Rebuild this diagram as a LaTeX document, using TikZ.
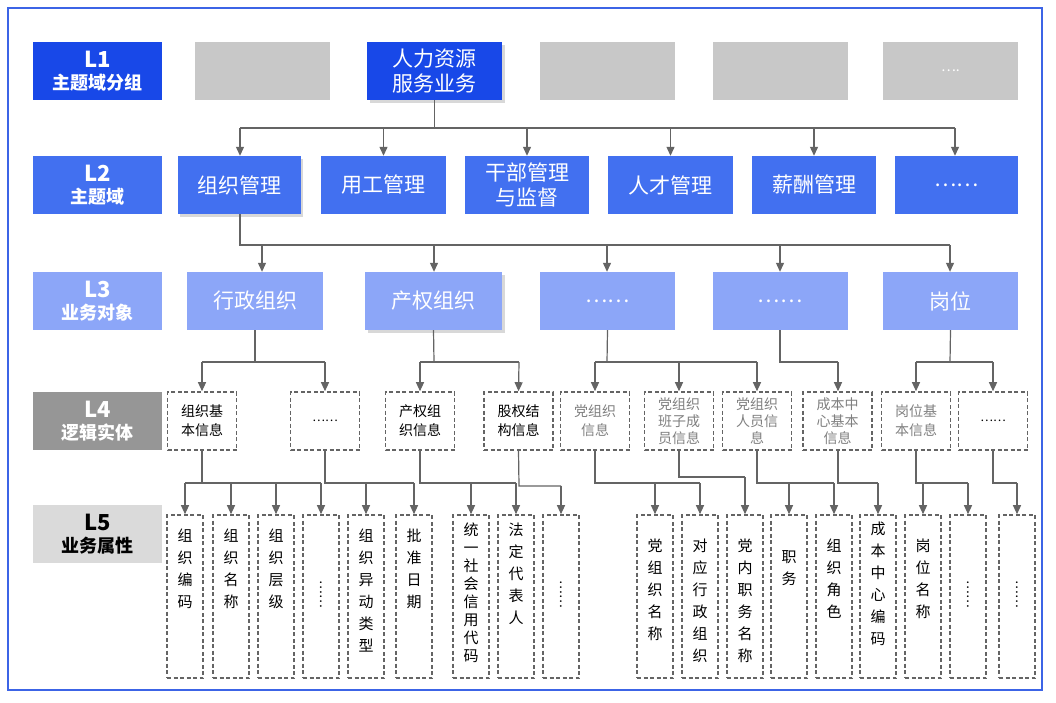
\documentclass[tikz,border=0pt]{standalone}
\usepackage{fontspec}
\setmainfont{Noto Sans CJK SC}
\usetikzlibrary{arrows.meta,shadows}
\definecolor{lvone}{RGB}{24,72,232}
\definecolor{lvtwo}{RGB}{66,112,240}
\definecolor{lvthree}{RGB}{140,166,248}
\definecolor{lvfour}{RGB}{150,150,150}
\definecolor{lvfive}{RGB}{218,218,218}
\definecolor{boxgray}{RGB}{200,200,200}
\definecolor{linegray}{RGB}{100,100,100}
\definecolor{frameblue}{RGB}{60,100,230}
\tikzset{
  lvl/.style={minimum width=129pt,minimum height=58pt,inner sep=0pt,align=center,font=\bfseries\fontsize{18}{22}\selectfont},
  topbox/.style={minimum width=135pt,minimum height=58pt,inner sep=0pt,align=center,text=white,font=\fontsize{21}{25}\selectfont},
  entbox/.style={draw=linegray,dash pattern=on 4pt off 2.5pt,line width=1.6pt,minimum width=69pt,minimum height=58pt,inner sep=0pt,align=center,font=\fontsize{14}{19}\selectfont},
  attbox/.style={draw=linegray,dash pattern=on 4pt off 2.5pt,line width=1.6pt,minimum width=36pt,minimum height=163pt,inner sep=0pt},
  vtxt/.style={anchor=north,align=center,inner sep=0pt,font=\fontsize{15}{22}\selectfont},
  vdots/.style={rotate=-90,inner sep=0pt,font=\fontsize{13}{15}\selectfont},
  arr/.style={-{Triangle[width=8pt,length=9pt]},linegray,line width=1.2pt},
  ln/.style={linegray,line width=1.2pt},
}
\begin{document}
\begin{tikzpicture}[x=1pt,y=-1pt]
  \useasboundingbox[fill=white] (0,0) rectangle (1056,702);
  \draw[frameblue,line width=1.5pt] (8,8) rectangle (1042,690);
  %levels
  \node[lvl,fill=lvone,text=white] (l1) at (97.5,71) {\fontsize{22}{24}\selectfont L1\\主题域分组};
  \node[lvl,fill=lvtwo,text=white] (l2) at (97.5,185) {\fontsize{22}{24}\selectfont L2\\主题域};
  \node[lvl,fill=lvthree,text=white] (l3) at (97.5,301) {\fontsize{22}{24}\selectfont L3\\业务对象};
  \node[lvl,fill=lvfour,text=white] (l4) at (97.5,421) {\fontsize{22}{24}\selectfont L4\\逻辑实体};
  \node[lvl,fill=lvfive,text=black] (l5) at (97.5,534) {\fontsize{22}{24}\selectfont L5\\业务属性};
  %L1
  \node[topbox,fill=boxgray] (g1) at (262.5,71) {};
  \node[topbox,fill=lvone,drop shadow={opacity=0.3}] (hr) at (434.5,71) {人力资源\\服务业务};
  \node[topbox,fill=boxgray] (g2) at (607.5,71) {};
  \node[topbox,fill=boxgray] (g3) at (780,71) {};
  \node[topbox,fill=boxgray] (g4) at (950.5,71) {\fontsize{14}{16}\selectfont ….};
  %L2
  \node[topbox,minimum width=123pt,fill=lvtwo,drop shadow={opacity=0.3}] (zz) at (239,185) {组织管理};
  \node[topbox,minimum width=125pt,fill=lvtwo] (yg) at (383.5,185) {用工管理};
  \node[topbox,minimum width=124pt,fill=lvtwo] (gb) at (527,185) {干部管理\\与监督};
  \node[topbox,minimum width=125pt,fill=lvtwo] (rc) at (670.5,185) {人才管理};
  \node[topbox,minimum width=124pt,fill=lvtwo] (xc) at (814,185) {薪酬管理};
  \node[topbox,minimum width=123pt,fill=lvtwo] (ot) at (956.5,185) {……};
  \coordinate (j1) at (434.5,128);
  \draw[ln] (hr.south) -- (j1);
  \draw[ln] (240,128) -- (955,128);
  \foreach \n/\x in {zz/240,yg/383.5,gb/527,rc/670.5,xc/814,ot/955}
    \draw[arr] (\x,128) -- (\n.north -| \x,0);
  %L3
  \node[topbox,minimum width=136pt,fill=lvthree] (xz) at (255,301) {行政组织};
  \node[topbox,minimum width=137pt,fill=lvthree,drop shadow={opacity=0.3}] (cq) at (433.5,301) {产权组织};
  \node[topbox,fill=lvthree] (o1) at (607.5,301) {……};
  \node[topbox,fill=lvthree] (o2) at (780,301) {……};
  \node[topbox,fill=lvthree] (gw) at (950.5,301) {岗位};
  \draw[ln] (zz.south -| 240,0) -- (240,245) -- (950,245);
  \foreach \n/\x in {xz/262,cq/434,o1/607,o2/780,gw/950}
    \draw[arr] (\x,245) -- (\n.north -| \x,0);
  %L4
  \node[entbox] (e1) at (202,421) {组织基\\本信息};
  \node[entbox] (e2) at (325,421) {\fontsize{12}{14}\selectfont ……};
  \node[entbox] (e3) at (420,421) {产权组\\织信息};
  \node[entbox] (e4) at (518.5,421) {股权结\\构信息};
  \node[entbox,text=gray] (e5) at (595,421) {党组织\\信息};
  \node[entbox,text=gray,font=\fontsize{14}{17}\selectfont] (e6) at (679,421) {党组织\\班子成\\员信息};
  \node[entbox,text=gray,font=\fontsize{14}{17}\selectfont] (e7) at (757,421) {党组织\\人员信\\息};
  \node[entbox,text=gray,font=\fontsize{14}{17}\selectfont] (e8) at (837.5,421) {成本中\\心基本\\信息};
  \node[entbox,text=gray] (e9) at (916,421) {岗位基\\本信息};
  \node[entbox] (e10) at (993,421) {\fontsize{12}{14}\selectfont ……};
  \draw[ln] (xz.south) -- (255,362);
  \draw[ln] (202,362) -- (325,362);
  \draw[arr] (202,362) -- (e1.north);
  \draw[arr] (325,362) -- (e2.north);
  \draw[ln] (cq.south) -- (434,362);
  \draw[ln] (420,362) -- (519,362);
  \draw[arr] (420,362) -- (e3.north);
  \draw[arr] (519,362) -- (e4.north);
  \draw[ln] (o1.south) -- (607,362);
  \draw[ln] (595,362) -- (757,362);
  \draw[arr] (595,362) -- (e5.north);
  \draw[arr] (679,362) -- (e6.north);
  \draw[arr] (757,362) -- (e7.north);
  \draw[ln] (o2.south) -- (780,362) -- (838,362);
  \draw[arr] (838,362) -- (e8.north -| 838,0);
  \draw[ln] (gw.south) -- (950,362);
  \draw[ln] (916,362) -- (993,362);
  \draw[arr] (916,362) -- (e9.north);
  \draw[arr] (993,362) -- (e10.north);
  %L5
  \foreach \n/\x in {a1/185,a2/231,a3/276,a4/321,a5/366,a6/414,a7/471,a8/516,a9/561,
      b1/655,b2/700,b3/745,b4/789,b5/834,b6/878,b7/923,b8/968,b9/1017}
    \node[attbox] (\n) at (\x,596.5) {};
  \node[vtxt] at ([yshift=-14pt]a1.north) {组\\织\\编\\码};
  \node[vtxt] at ([yshift=-14pt]a2.north) {组\\织\\名\\称};
  \node[vtxt] at ([yshift=-14pt]a3.north) {组\\织\\层\\级};
  \node[vdots] at ([yshift=-80pt]a4.north) {……};
  \node[vtxt] at ([yshift=-14pt]a5.north) {组\\织\\异\\动\\类\\型};
  \node[vtxt] at ([yshift=-14pt]a6.north) {批\\准\\日\\期};
  \node[vtxt,font=\fontsize{15}{18}\selectfont] at ([yshift=-8pt]a7.north) {统\\一\\社\\会\\信\\用\\代\\码};
  \node[vtxt] at ([yshift=-8pt]a8.north) {法\\定\\代\\表\\人};
  \node[vdots] at ([yshift=-80pt]a9.north) {……};
  \node[vtxt] at ([yshift=-24pt]b1.north) {党\\组\\织\\名\\称};
  \node[vtxt] at ([yshift=-24pt]b2.north) {对\\应\\行\\政\\组\\织};
  \node[vtxt] at ([yshift=-24pt]b3.north) {党\\内\\职\\务\\名\\称};
  \node[vtxt] at ([yshift=-36pt]b4.north) {职\\务};
  \node[vtxt] at ([yshift=-24pt]b5.north) {组\\织\\角\\色};
  \node[vtxt] at ([yshift=-8pt]b6.north) {成\\本\\中\\心\\编\\码};
  \node[vtxt] at ([yshift=-24pt]b7.north) {岗\\位\\名\\称};
  \node[vdots] at ([yshift=-80pt]b8.north) {……};
  \node[vdots] at ([yshift=-80pt]b9.north) {……};
  \draw[ln] (e1.south) -- (202,483);
  \draw[ln] (185,483) -- (321,483);
  \foreach \n in {a1,a2,a3,a4} \draw[arr] (\n.north |- 0,483) -- (\n.north);
  \draw[ln] (e2.south) -- (325,483) -- (414,483);
  \foreach \n in {a5,a6} \draw[arr] (\n.north |- 0,483) -- (\n.north);
  \draw[ln] (e3.south) -- (420,483) -- (516,483);
  \foreach \n in {a7,a8} \draw[arr] (\n.north |- 0,483) -- (\n.north);
  \draw[ln] (e4.south) -- (519,486) -- (561,486);
  \draw[arr] (561,486) -- (a9.north);
  \draw[ln] (e5.south) -- (595,483) -- (700,483);
  \foreach \n in {b1,b2} \draw[arr] (\n.north |- 0,483) -- (\n.north);
  \draw[ln] (e6.south) -- (679,477) -- (745,477);
  \draw[arr] (745,477) -- (b3.north);
  \draw[ln] (e7.south) -- (757,483) -- (834,483);
  \foreach \n in {b4,b5} \draw[arr] (\n.north |- 0,483) -- (\n.north);
  \draw[ln] (e8.south -| 838,0) -- (838,483) -- (878,483);
  \draw[arr] (878,483) -- (b6.north);
  \draw[ln] (e9.south) -- (916,483) -- (968,483);
  \foreach \n in {b7,b8} \draw[arr] (\n.north |- 0,483) -- (\n.north);
  \draw[ln] (e10.south) -- (993,483) -- (1017,483);
  \draw[arr] (1017,483) -- (b9.north);
\end{tikzpicture}
\end{document}
